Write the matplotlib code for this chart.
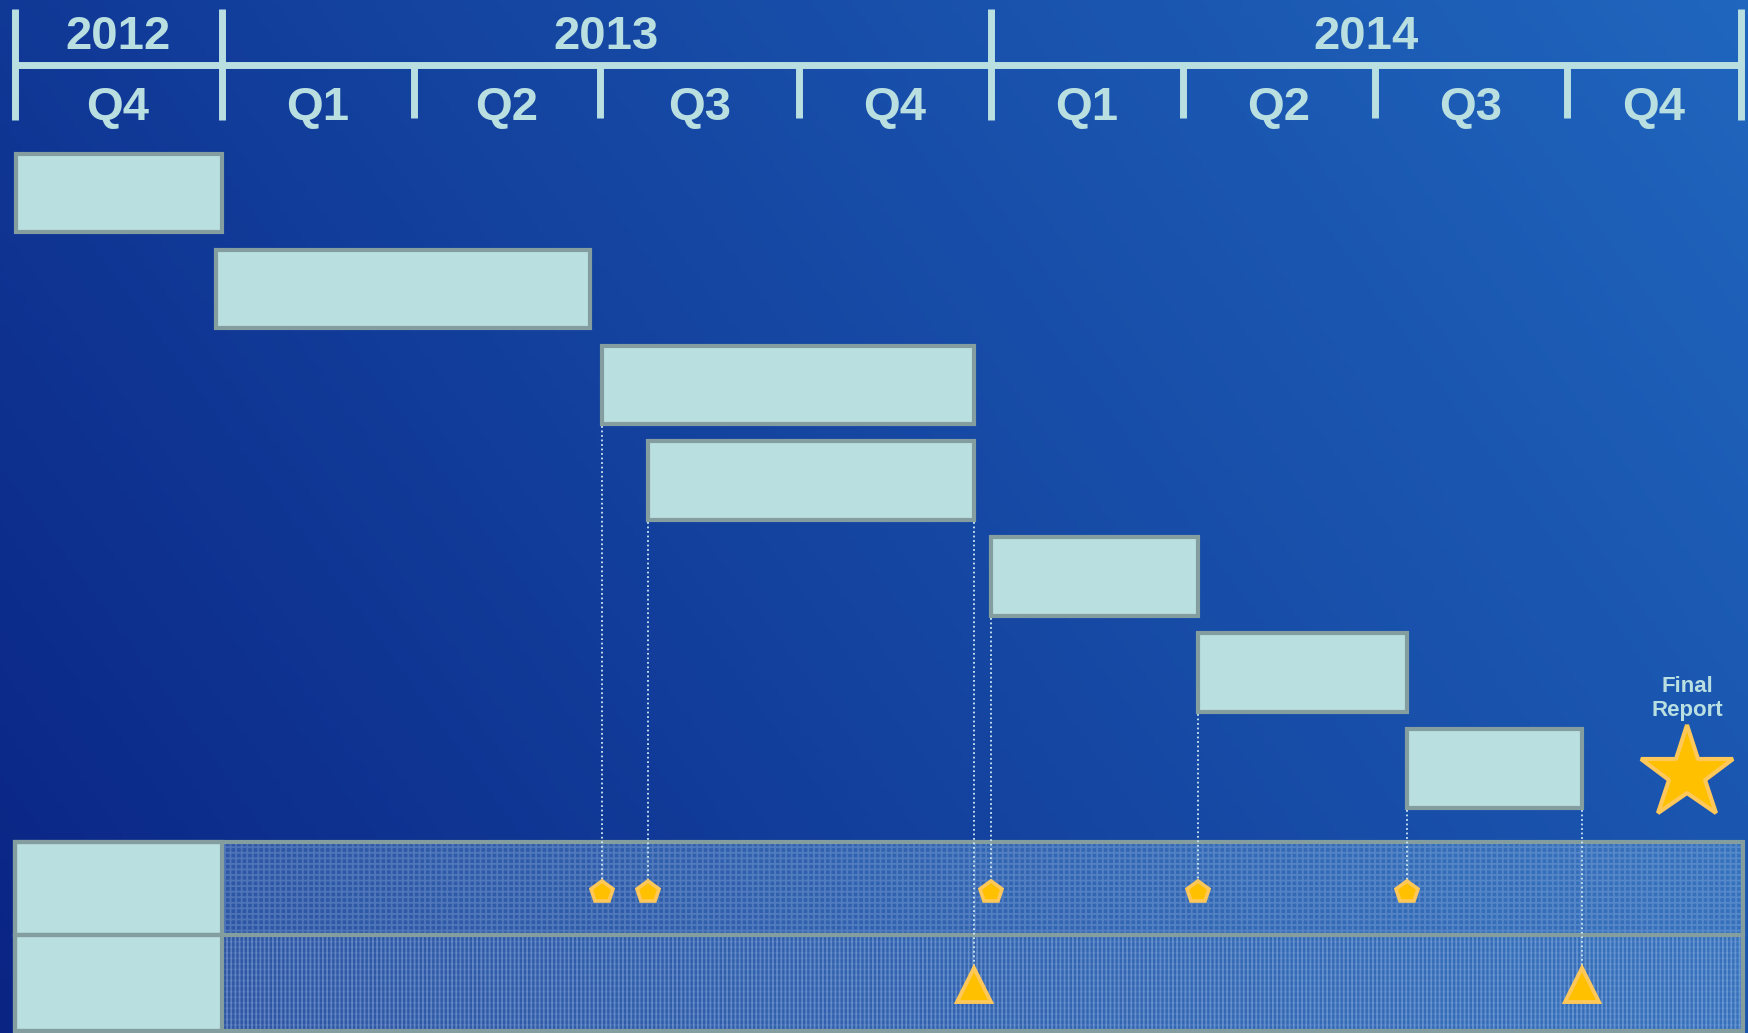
"""
Project timeline (2012 Q4 - 2014 Q4) drawn as a gantt-style chart.
Saves out.png.
"""

import numpy as np
import matplotlib
matplotlib.use("Agg")
import matplotlib.pyplot as plt
from matplotlib.patches import Rectangle
from matplotlib.colors import LinearSegmentedColormap


# x values are in quarters counted from the start of 2012 Q4
YEARS         = ["2012", "2013", "2014"]
YEAR_EDGES    = [0.0, 1.08, 5.09, 9.0]
QUARTERS      = ["Q4", "Q1", "Q2", "Q3", "Q4", "Q1", "Q2", "Q3", "Q4"]
QUARTER_EDGES = [0.0, 1.08, 2.08, 3.05, 4.09, 5.09, 6.09, 7.09, 8.09, 9.0]

TASK_START = [0.01, 1.05, 3.06, 3.30, 5.09, 6.17, 7.26]
TASK_END   = [1.08, 3.00, 5.00, 5.00, 6.17, 7.26, 8.17]

MILESTONE_X    = [3.06, 3.30, 5.09, 6.17, 7.26]
MILESTONE_TASK = [2, 3, 4, 5, 6]
DEADLINE_X     = [5.00, 8.17]
DEADLINE_TASK  = [3, 6]

FINAL_X     = 8.72
FINAL_LABEL = "Final\nReport"

PALE   = "#b9dfe1"
EDGE   = "#849ea0"
GOLD   = "#ffc000"
GOLD_E = "#ffc859"

BAR_H = 0.82


def main():
    fig = plt.figure(figsize=(17.49, 10.33), dpi=100)
    ax = fig.add_axes([0, 0, 1, 1])
    x0, x1 = -0.0756, 9.041
    y0, y1 = 8.756, -2.012
    ax.set_xlim(x0, x1)
    ax.set_ylim(y0, y1)
    ax.axis("off")

    # background gradient, dark on the left, lighter toward top-right
    u = np.linspace(0, 1, 400)
    v = np.linspace(0, 1, 240)
    uu, vv = np.meshgrid(u, v)
    t = 0.7 * uu + 0.3 * vv          # origin="lower": vv=1 is the top
    cmap = LinearSegmentedColormap.from_list("bg", ["#0a2484", "#1546a2", "#2066be"])
    ax.imshow(t, cmap=cmap, extent=(x0, x1, y0, y1), origin="lower",
              aspect="auto", zorder=0)

    # header: year and quarter scale
    ax.plot([YEAR_EDGES[0], YEAR_EDGES[-1]], [-1.337, -1.337], color=PALE,
            lw=5, solid_capstyle="butt", zorder=3)
    for e in YEAR_EDGES:
        ax.plot([e, e], [-1.92, -0.756], color=PALE, lw=5,
                solid_capstyle="butt", zorder=3)
    for e in QUARTER_EDGES:
        if e not in YEAR_EDGES:
            ax.plot([e, e], [-1.337, -0.78], color=PALE, lw=5,
                    solid_capstyle="butt", zorder=3)
    for i, yr in enumerate(YEARS):
        xc = (YEAR_EDGES[i] + YEAR_EDGES[i + 1]) / 2
        ax.text(xc, -1.63, yr, ha="center", va="center", fontsize=34,
                fontweight="bold", color=PALE, family="Liberation Sans")
    for i, q in enumerate(QUARTERS):
        xc = (QUARTER_EDGES[i] + QUARTER_EDGES[i + 1]) / 2
        ax.text(xc, -0.89, q, ha="center", va="center", fontsize=34,
                fontweight="bold", color=PALE, family="Liberation Sans")

    # task bars
    for i, (s, e) in enumerate(zip(TASK_START, TASK_END)):
        ax.add_patch(Rectangle((s, i - BAR_H / 2), e - s, BAR_H,
                               facecolor=PALE, edgecolor=EDGE, lw=3, zorder=3))

    # bottom band with milestone and deadline rows
    band_top, band_mid, band_bot = 6.76, 7.735, 8.73
    plt.rcParams["hatch.linewidth"] = 1.3
    bx = QUARTER_EDGES[1]
    bw = QUARTER_EDGES[-1] + 0.01 - bx
    rows = [(band_top, band_mid, [("+++", 0.22)]),
            (band_mid, band_bot, [("||||", 0.30), ("---", 0.10)])]
    for top, bot, hatches in rows:
        ax.add_patch(Rectangle((bx, top), bw, bot - top, facecolor="#6fa9d6",
                               alpha=0.34, lw=0, zorder=1))
        for hatch, a in hatches:
            ax.add_patch(Rectangle((bx, top), bw, bot - top, fill=False,
                                   hatch=hatch, edgecolor=(0.78, 0.88, 1.0, a),
                                   lw=0, zorder=1))
        ax.add_patch(Rectangle((QUARTER_EDGES[0], top), QUARTER_EDGES[1] - QUARTER_EDGES[0],
                               bot - top, facecolor=PALE, edgecolor=EDGE,
                               lw=3, zorder=2))
    ax.add_patch(Rectangle((QUARTER_EDGES[0], band_top), QUARTER_EDGES[-1] + 0.01,
                           band_bot - band_top, fill=False, edgecolor=EDGE,
                           lw=3, zorder=2))
    ax.plot([QUARTER_EDGES[0], QUARTER_EDGES[-1] + 0.01], [band_mid, band_mid],
            color=EDGE, lw=3, zorder=2)

    # dotted connectors and markers
    ms_row, dl_row = 7.29, 8.256
    for x, ti in zip(MILESTONE_X, MILESTONE_TASK):
        ax.plot([x, x], [ti + BAR_H / 2 + 0.02, ms_row], color="#cfe8f2",
                ls=(0, (1, 1.5)), lw=1.3, zorder=2.5)
    for x, ti in zip(DEADLINE_X, DEADLINE_TASK):
        ax.plot([x, x], [ti + BAR_H / 2 + 0.02, dl_row], color="#cfe8f2",
                ls=(0, (1, 1.5)), lw=1.3, zorder=2.5)
    ax.plot(MILESTONE_X, [ms_row] * len(MILESTONE_X), ls="none", marker="p",
            ms=16, mfc=GOLD, mec=GOLD_E, mew=2.6, zorder=4)
    ax.plot(DEADLINE_X, [dl_row] * len(DEADLINE_X), ls="none", marker="^",
            ms=24, mfc=GOLD, mec=GOLD_E, mew=2.8, zorder=4)

    # final report star
    ax.plot([FINAL_X], [6.06], marker="*", ms=70, mfc=GOLD, mec=GOLD_E,
            mew=3, zorder=4)
    ax.text(FINAL_X, 5.27, FINAL_LABEL, ha="center", va="center", fontsize=16,
            fontweight="bold", color=PALE, linespacing=1.2,
            family="Liberation Sans")

    fig.savefig("out.png", dpi=100)
    plt.close(fig)


if __name__ == "__main__":
    main()
